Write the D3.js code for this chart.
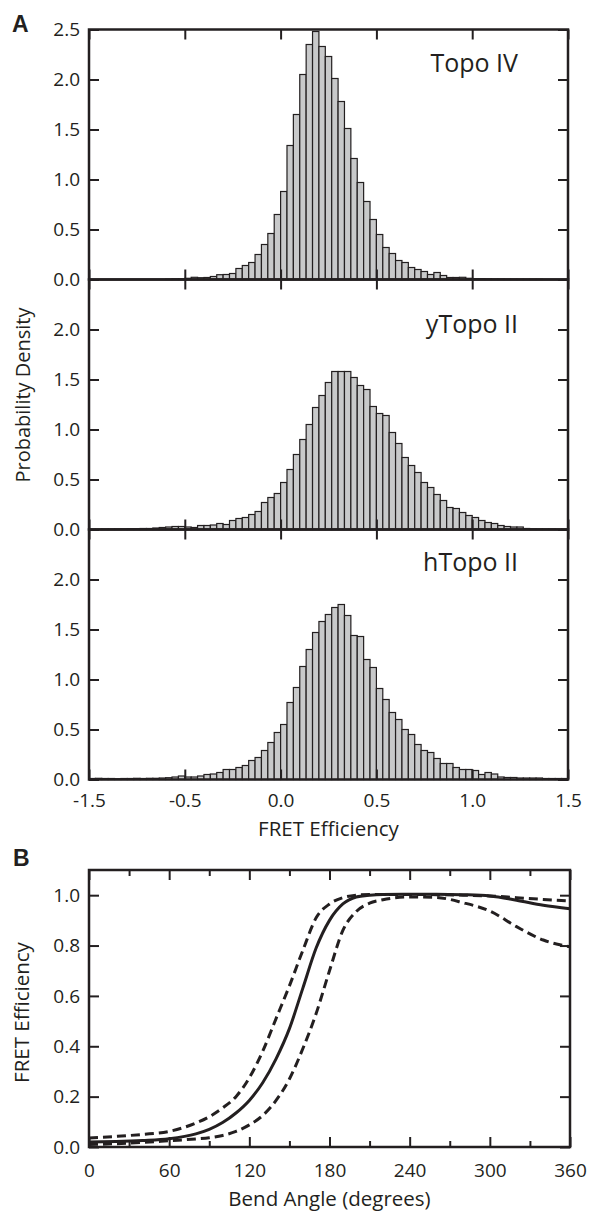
<!DOCTYPE html>
<html>
<head>
<meta charset="utf-8">
<script src="https://cdn.jsdelivr.net/npm/d3@7"></script>
<style>
  html, body { margin: 0; padding: 0; background: #fff; }
  svg { display: block; }
  text { font-family: "Open Sans", sans-serif; fill: #231f20; }
</style>
</head>
<body>
<svg id="chart" width="589" height="1211"></svg>
<script>
// ---------------- DATA ----------------
// Panel A: histograms, bins of width 1/30 starting at FRET = -1.0 (75 bins)
const binStart = -1.0;
const binWidth = 1 / 30;
const histNames = ["Topo IV", "yTopo II", "hTopo II"];
const topoIV = [
  0,0,0,0,0,0,0,0,0,0, 0,0,0.003,0.006,0.007,0.012,0.022,0.018,0.02,0.03,
  0.048,0.05,0.06,0.11,0.14,0.17,0.25,0.35,0.46,0.65, 0.88,1.34,1.65,2.05,2.35,2.48,2.33,2.23,2.01,1.78,
  1.51,1.21,0.97,0.78,0.60,0.45,0.32,0.26,0.19,0.17, 0.12,0.10,0.08,0.05,0.07,0.04,0.02,0.02,0.022,0.012,
  0.008,0.008,0.006,0.004,0.004,0.003,0.003,0.002,0.002,0.002, 0.002,0,0,0,0
];
const yTopoII = [
  0.003,0.003,0.004,0.004,0.005,0.006,0.008,0.008,0.01,0.01, 0.015,0.02,0.025,0.03,0.03,0.025,0.02,0.04,0.04,0.045,
  0.06,0.05,0.09,0.11,0.12,0.15,0.18,0.27,0.32,0.36, 0.47,0.60,0.75,0.90,1.05,1.22,1.34,1.47,1.58,1.58,
  1.58,1.52,1.44,1.40,1.23,1.16,1.14,0.97,0.86,0.72, 0.64,0.57,0.47,0.42,0.35,0.29,0.22,0.21,0.17,0.14,
  0.12,0.09,0.07,0.06,0.04,0.03,0.025,0.025,0.01,0.006, 0.005,0.004,0.004,0.003,0.003
];
const hTopoII = [
  0.01,0.012,0.01,0.01,0.008,0.01,0.01,0.012,0.01,0.012, 0.012,0.015,0.018,0.025,0.035,0.025,0.025,0.035,0.05,0.055,
  0.07,0.10,0.10,0.12,0.14,0.19,0.22,0.29,0.37,0.47, 0.55,0.77,0.92,1.13,1.30,1.47,1.58,1.65,1.72,1.75,
  1.64,1.44,1.43,1.20,1.12,0.91,0.80,0.67,0.60,0.50, 0.45,0.35,0.29,0.27,0.21,0.16,0.16,0.12,0.10,0.10,
  0.09,0.05,0.07,0.055,0.025,0.02,0.02,0.015,0.015,0.015, 0.015,0.01,0.01,0.01,0.01
];
const histSeries = [topoIV, yTopoII, hTopoII];
const aXTickValues = [-1.0, -0.5, 0.0, 0.5, 1.0, 1.5];
const aXTickLabels = ["-1.5", "-0.5", "0.0", "0.5", "1.0", "1.5"];
const aYTicksTop = [0, 0.5, 1.0, 1.5, 2.0, 2.5];
const aYTicksOther = [0, 0.5, 1.0, 1.5, 2.0];

// Panel B: FRET efficiency vs bend angle
const angles = [0,20,40,60,80,90,100,110,120,130,140,150,160,170,180,190,200,210,220,240,260,280,300,320,340,360];
const fretMean = [0.020,0.022,0.026,0.033,0.052,0.070,0.097,0.135,0.185,0.255,0.35,0.47,0.63,0.79,0.90,0.965,0.993,1.0,1.003,1.004,1.004,1.002,0.997,0.980,0.960,0.946];
const fretUpper = [0.036,0.042,0.050,0.062,0.095,0.12,0.155,0.20,0.275,0.38,0.51,0.64,0.78,0.91,0.965,0.99,1.0,1.003,1.003,1.003,1.002,1.0,0.997,0.99,0.983,0.977];
const fretLower = [0.010,0.013,0.018,0.025,0.032,0.037,0.046,0.062,0.088,0.125,0.185,0.27,0.39,0.53,0.70,0.86,0.935,0.968,0.982,0.993,0.991,0.970,0.937,0.875,0.822,0.795];
const bXTicks = [0, 60, 120, 180, 240, 300, 360];
const bXMinor = [30, 90, 150, 210, 270, 330];
const bYTicks = [0, 0.2, 0.4, 0.6, 0.8, 1.0];

// ---------------- DRAW ----------------
const ink = "#231f20";
const svg = d3.select("#chart");

// Panel A layout
const aLeft = 89, aRight = 568, aTop = 29.5, aPanelH = 250;
const xA = d3.scaleLinear().domain([-1.0, 1.5]).range([aLeft, aRight]);
const labelFmt = d3.format(".1f");

histSeries.forEach((vals, i) => {
  const top = aTop + i * aPanelH, bottom = top + aPanelH;
  const y = d3.scaleLinear().domain([0, 2.5]).range([bottom, top]);
  const g = svg.append("g");

  g.selectAll("rect.bar").data(vals).join("rect")
    .attr("class", "bar")
    .attr("x", (d, k) => xA(binStart + k * binWidth))
    .attr("width", (d, k) => xA(binStart + (k + 1) * binWidth) - xA(binStart + k * binWidth))
    .attr("y", d => y(d))
    .attr("height", d => y(0) - y(d))
    .attr("fill", "#c8c9ca")
    .attr("stroke", ink)
    .attr("stroke-width", 1.2);

  const yt = i === 0 ? aYTicksTop : aYTicksOther;
  const left = g.append("g").attr("transform", `translate(${aLeft},0)`)
    .call(d3.axisLeft(y).tickValues(yt).tickSize(-10).tickSizeOuter(0).tickPadding(9).tickFormat(labelFmt));
  const right = g.append("g").attr("transform", `translate(${aRight},0)`)
    .call(d3.axisRight(y).tickValues(yt).tickSize(-10).tickSizeOuter(0).tickFormat(""));
  const topAx = g.append("g").attr("transform", `translate(0,${top})`)
    .call(d3.axisTop(xA).tickValues(aXTickValues).tickSize(-10).tickSizeOuter(0).tickFormat(""));
  const botAx = g.append("g").attr("transform", `translate(0,${bottom})`)
    .call(d3.axisBottom(xA).tickValues(aXTickValues).tickSize(-10).tickSizeOuter(0).tickPadding(14.5)
      .tickFormat(i === 2 ? ((d, j) => aXTickLabels[j]) : ""));
  [left, right, topAx, botAx].forEach(a => {
    a.select(".domain").remove();
    a.selectAll("line").attr("stroke", ink).attr("stroke-width", 2);
    a.selectAll("text").style("font-size", "19px").attr("fill", ink);
  });

  g.append("rect").attr("x", aLeft).attr("y", top).attr("width", aRight - aLeft).attr("height", aPanelH)
    .attr("fill", "none").attr("stroke", ink).attr("stroke-width", 2.5);

  g.append("text").attr("x", 518).attr("y", [72, 333, 571][i])
    .attr("text-anchor", "end").style("font-size", "25px").text(histNames[i]);
});

svg.append("text").attr("x", 12).attr("y", 32)
  .style("font-family", "'Liberation Sans', Arial, sans-serif").style("font-weight", "bold").style("font-size", "23px")
  .text("A");
svg.append("text").attr("transform", "translate(30,395) rotate(-90)").attr("text-anchor", "middle")
  .style("font-size", "20px").text("Probability Density");
svg.append("text").attr("x", (aLeft + aRight) / 2).attr("y", 835.5).attr("text-anchor", "middle")
  .style("font-size", "20.5px").text("FRET Efficiency");

// Panel B
const bLeft = 89, bRight = 570, bTop = 870, bBottom = 1147;
const xB = d3.scaleLinear().domain([0, 360]).range([bLeft, bRight]);
const yB = d3.scaleLinear().domain([0, 1.1]).range([bBottom, bTop]);
const gb = svg.append("g");

const line = d3.line().x((d, k) => xB(angles[k])).y(d => yB(d)).curve(d3.curveMonotoneX);
gb.append("path").attr("d", line(fretUpper)).attr("fill", "none").attr("stroke", ink)
  .attr("stroke-width", 3).attr("stroke-dasharray", "9,5");
gb.append("path").attr("d", line(fretLower)).attr("fill", "none").attr("stroke", ink)
  .attr("stroke-width", 3).attr("stroke-dasharray", "9,5");
gb.append("path").attr("d", line(fretMean)).attr("fill", "none").attr("stroke", ink)
  .attr("stroke-width", 3);

const axes = [];
axes.push(gb.append("g").attr("transform", `translate(${bLeft},0)`)
  .call(d3.axisLeft(yB).tickValues(bYTicks).tickSize(-10).tickSizeOuter(0).tickPadding(9).tickFormat(labelFmt)));
axes.push(gb.append("g").attr("transform", `translate(${bRight},0)`)
  .call(d3.axisRight(yB).tickValues(bYTicks).tickSize(-10).tickSizeOuter(0).tickFormat("")));
axes.push(gb.append("g").attr("transform", `translate(0,${bBottom})`)
  .call(d3.axisBottom(xB).tickValues(bXTicks).tickSize(-10).tickSizeOuter(0).tickPadding(17).tickFormat(d3.format("d"))));
axes.push(gb.append("g").attr("transform", `translate(0,${bBottom})`)
  .call(d3.axisBottom(xB).tickValues(bXMinor).tickSize(-6).tickSizeOuter(0).tickFormat("")));
axes.push(gb.append("g").attr("transform", `translate(0,${bTop})`)
  .call(d3.axisTop(xB).tickValues(bXTicks).tickSize(-10).tickSizeOuter(0).tickFormat("")));
axes.push(gb.append("g").attr("transform", `translate(0,${bTop})`)
  .call(d3.axisTop(xB).tickValues(bXMinor).tickSize(-6).tickSizeOuter(0).tickFormat("")));
axes.forEach(a => {
  a.select(".domain").remove();
  a.selectAll("line").attr("stroke", ink).attr("stroke-width", 2);
  a.selectAll("text").style("font-size", "19px").attr("fill", ink);
});
gb.append("rect").attr("x", bLeft).attr("y", bTop).attr("width", bRight - bLeft).attr("height", bBottom - bTop)
  .attr("fill", "none").attr("stroke", ink).attr("stroke-width", 2.5);

svg.append("text").attr("x", 13).attr("y", 866)
  .style("font-family", "'Liberation Sans', Arial, sans-serif").style("font-weight", "bold").style("font-size", "23px")
  .text("B");
svg.append("text").attr("transform", `translate(29,${(bTop + bBottom) / 2 + 4}) rotate(-90)`).attr("text-anchor", "middle")
  .style("font-size", "20.5px").text("FRET Efficiency");
svg.append("text").attr("x", (bLeft + bRight) / 2).attr("y", 1206).attr("text-anchor", "middle")
  .style("font-size", "20.5px").text("Bend Angle (degrees)");
</script>
</body>
</html>
